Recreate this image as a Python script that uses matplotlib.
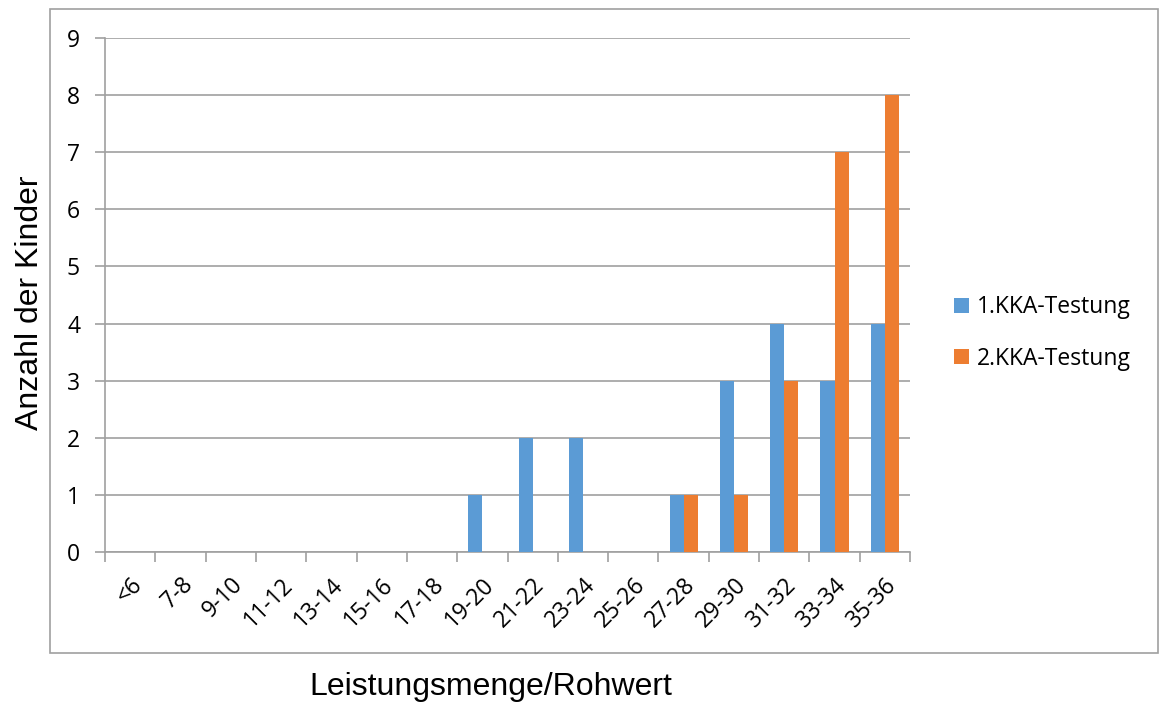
import numpy as np
import matplotlib.pyplot as plt
from matplotlib.patches import Rectangle

# ---- Daten ----
kategorien = ['<6', '7-8', '9-10', '11-12', '13-14', '15-16', '17-18', '19-20',
              '21-22', '23-24', '25-26', '27-28', '29-30', '31-32', '33-34', '35-36']
testung1 = [0, 0, 0, 0, 0, 0, 0, 1, 2, 2, 0, 1, 3, 4, 3, 4]
testung2 = [0, 0, 0, 0, 0, 0, 0, 0, 0, 0, 0, 1, 1, 3, 7, 8]
serien = ['1.KKA-Testung', '2.KKA-Testung']

blau = '#5b9bd5'
orange = '#ed7d31'
grau = '#a0a0a0'

W, H = 1159, 704
fig = plt.figure(figsize=(W / 100, H / 100), dpi=100)
ax = fig.add_axes([105 / W, 1 - 552 / H, (910 - 105) / W, (552 - 38) / H])

x = np.arange(len(kategorien))
bw = 0.28
ax.bar(x - bw / 2, testung1, bw, color=blau, label=serien[0], zorder=3)
ax.bar(x + bw / 2, testung2, bw, color=orange, label=serien[1], zorder=3)

ax.set_xlim(-0.5, len(kategorien) - 0.5)
ax.set_ylim(0, 9)
ax.set_yticks(range(10))
ax.yaxis.grid(True, color=grau, linewidth=1.2, zorder=0)
ax.tick_params(axis='y', length=7, color=grau, width=1.2, labelsize=16.5, pad=11)

# Kategorie-Grenzen als Ticks, Beschriftung in der Mitte
ax.set_xticks(np.arange(-0.5, len(kategorien)), minor=False)
ax.set_xticklabels([])
ax.tick_params(axis='x', length=7, color=grau, width=1.2)
ax.set_xticks(x, minor=True)
ax.set_xticklabels(kategorien, minor=True, rotation=45, ha='right',
                   rotation_mode='anchor', fontsize=16.5)
ax.tick_params(axis='x', which='minor', length=0, pad=15)

for lab in ax.get_yticklabels() + ax.get_xticklabels(minor=True):
    lab.set_family('Open Sans')

for s in ['top', 'right']:
    ax.spines[s].set_visible(False)
for s in ['left', 'bottom']:
    ax.spines[s].set_color(grau)
    ax.spines[s].set_linewidth(1.2)

ax.legend(loc='center left', bbox_to_anchor=(933 / W, 1 - 333 / H),
          bbox_transform=fig.transFigure, frameon=False,
          prop={'family': 'Open Sans', 'size': 16.5},
          handlelength=0.65, handleheight=0.65, handletextpad=0.35, labelspacing=1.2)

# Rahmen um das Diagramm
fig.patches.append(Rectangle((50 / W, 1 - 653 / H), (1158 - 50) / W, (653 - 9) / H,
                             transform=fig.transFigure, fill=False,
                             edgecolor=grau, linewidth=1.2))

fig.text(30 / W, 1 - 303 / H, 'Anzahl der Kinder', rotation=90, ha='center',
         va='center', fontsize=23, family='Liberation Sans')
fig.text(491 / W, 1 - 687 / H, 'Leistungsmenge/Rohwert', ha='center',
         va='center', fontsize=23, family='Liberation Sans')

fig.savefig('out.png', dpi=100)
